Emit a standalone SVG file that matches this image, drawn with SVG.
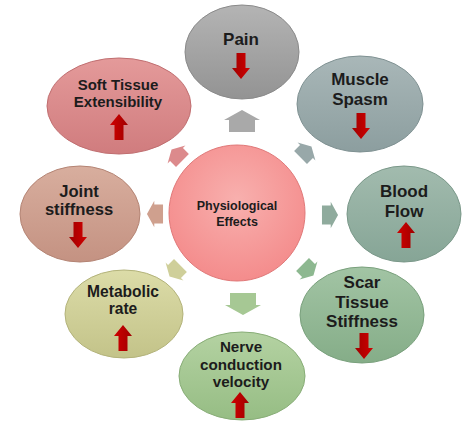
<svg xmlns="http://www.w3.org/2000/svg" width="474" height="435" viewBox="0 0 474 435">
<defs>
<radialGradient id="gC" cx="0.5" cy="0.4" r="0.6"><stop offset="0" stop-color="#f8b0ae"/><stop offset="1" stop-color="#f48c8c"/></radialGradient>
<linearGradient id="gPain" x1="0" y1="0" x2="0" y2="1"><stop offset="0" stop-color="#b4b4b4"/><stop offset="1" stop-color="#939393"/></linearGradient>
<linearGradient id="gMus" x1="0" y1="0" x2="0" y2="1"><stop offset="0" stop-color="#a9b7b8"/><stop offset="1" stop-color="#8c9e9f"/></linearGradient>
<linearGradient id="gBlo" x1="0" y1="0" x2="0" y2="1"><stop offset="0" stop-color="#a2bbae"/><stop offset="1" stop-color="#86a596"/></linearGradient>
<linearGradient id="gSca" x1="0" y1="0" x2="0" y2="1"><stop offset="0" stop-color="#a2c4a4"/><stop offset="1" stop-color="#85ad88"/></linearGradient>
<linearGradient id="gNer" x1="0" y1="0" x2="0" y2="1"><stop offset="0" stop-color="#b4d2a2"/><stop offset="1" stop-color="#96bd84"/></linearGradient>
<linearGradient id="gMet" x1="0" y1="0" x2="0" y2="1"><stop offset="0" stop-color="#dcdca8"/><stop offset="1" stop-color="#c3c389"/></linearGradient>
<linearGradient id="gJoi" x1="0" y1="0" x2="0" y2="1"><stop offset="0" stop-color="#d8ae9e"/><stop offset="1" stop-color="#c49282"/></linearGradient>
<linearGradient id="gSof" x1="0" y1="0" x2="0" y2="1"><stop offset="0" stop-color="#e49a9a"/><stop offset="1" stop-color="#d07c7e"/></linearGradient>
<linearGradient id="gRed" x1="0" y1="0" x2="1" y2="0"><stop offset="0" stop-color="#d00000"/><stop offset="1" stop-color="#a00000"/></linearGradient>
<path id="blk" d="M0,-11 L18,-1 L13,-1 L13,11 L-13,11 L-13,-1 L-18,-1 Z"/>
<path id="red" d="M0,-13 L9,-2 L4.5,-2 L4.5,13 L-4.5,13 L-4.5,-2 L-9,-2 Z" fill="url(#gRed)"/>
</defs>
<style>
ellipse, circle { stroke-width: 1; }
.t { font-family: "Liberation Sans", Arial, sans-serif; font-weight: bold; fill: #1c1c1c; text-anchor: middle; }
</style>
<g id="connectors">
<use href="#blk" transform="translate(242,121)" fill="#a9a9a9"/>
<use href="#blk" transform="translate(306,152) rotate(45) scale(0.7)" fill="#98a8a9"/>
<use href="#blk" transform="translate(330,215) rotate(90) scale(0.73)" fill="#8fab9d"/>
<use href="#blk" transform="translate(308,270) rotate(135) scale(0.7)" fill="#8db890"/>
<use href="#blk" transform="translate(243,304) rotate(180)" fill="#a6c894"/>
<use href="#blk" transform="translate(175,271) rotate(225) scale(0.7)" fill="#cfcf9a"/>
<use href="#blk" transform="translate(155,214) rotate(270) scale(0.73)" fill="#cfa08e"/>
<use href="#blk" transform="translate(177,155) rotate(315) scale(0.7)" fill="#dc8a8c"/>
</g>
<g id="center">
<circle cx="237" cy="213" r="68" fill="url(#gC)" stroke="#e07878"/>
<text class="t" x="237" y="210" font-size="12.5">Physiological</text>
<text class="t" x="237" y="226" font-size="12.5">Effects</text>
</g>
<g id="pain">
<ellipse cx="242" cy="52" rx="57" ry="47" fill="url(#gPain)" stroke="#8a8a8a"/>
<text class="t" x="241" y="45" font-size="17">Pain</text>
<use href="#red" transform="translate(241,66) rotate(180)"/>
</g>
<g id="muscle">
<ellipse cx="360" cy="104" rx="63" ry="48" fill="url(#gMus)" stroke="#7f9192"/>
<text class="t" x="360" y="85" font-size="17">Muscle</text>
<text class="t" x="360" y="105" font-size="17">Spasm</text>
<use href="#red" transform="translate(361,126) rotate(180)"/>
</g>
<g id="blood">
<ellipse cx="404" cy="214" rx="57" ry="48" fill="url(#gBlo)" stroke="#7a9889"/>
<text class="t" x="404" y="197" font-size="17">Blood</text>
<text class="t" x="404" y="217" font-size="17">Flow</text>
<use href="#red" transform="translate(406,235)"/>
</g>
<g id="scar">
<ellipse cx="362" cy="315" rx="62" ry="48" fill="url(#gSca)" stroke="#79a07c"/>
<text class="t" x="362" y="288" font-size="17">Scar</text>
<text class="t" x="362" y="308" font-size="17">Tissue</text>
<text class="t" x="362" y="327" font-size="17">Stiffness</text>
<use href="#red" transform="translate(364,346) rotate(180)"/>
</g>
<g id="nerve">
<ellipse cx="242" cy="376" rx="63" ry="44" fill="url(#gNer)" stroke="#88ad77"/>
<text class="t" x="241" y="352" font-size="15.2">Nerve</text>
<text class="t" x="241" y="370" font-size="15.2">conduction</text>
<text class="t" x="241" y="387" font-size="15.2">velocity</text>
<use href="#red" transform="translate(240,405)"/>
</g>
<g id="metabolic">
<ellipse cx="124" cy="314" rx="59" ry="44" fill="url(#gMet)" stroke="#b3b37b"/>
<text class="t" x="123" y="297" font-size="15.6">Metabolic</text>
<text class="t" x="123" y="314" font-size="15.6">rate</text>
<use href="#red" transform="translate(123,338)"/>
</g>
<g id="joint">
<ellipse cx="80" cy="214" rx="60" ry="48" fill="url(#gJoi)" stroke="#b48474"/>
<text class="t" x="79" y="197" font-size="16.6">Joint</text>
<text class="t" x="79" y="215" font-size="16.6">stiffness</text>
<use href="#red" transform="translate(78,235) rotate(180)"/>
</g>
<g id="soft">
<ellipse cx="119" cy="106" rx="72" ry="48" fill="url(#gSof)" stroke="#c06e70"/>
<text class="t" x="118" y="90" font-size="15">Soft Tissue</text>
<text class="t" x="118" y="107" font-size="15">Extensibility</text>
<use href="#red" transform="translate(119,127)"/>
</g>
</svg>
